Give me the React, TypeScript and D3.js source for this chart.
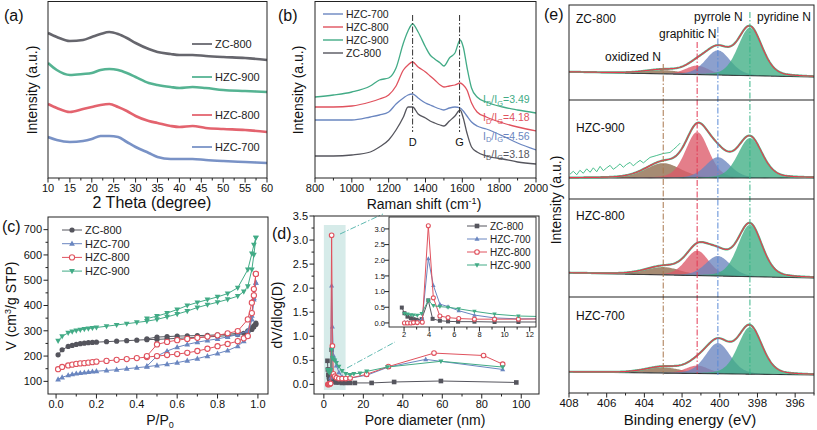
import React from 'react';
import * as d3 from 'd3';

const FONT = '"Liberation Sans", Arial, Helvetica, sans-serif';
const C_GRAY = '#55555d';
const C_GREEN = '#42ab86';
const C_RED = '#e0525e';
const C_BLUE = '#6a86c0';
const AX = '#222';

// ---------- (a) XRD ----------
const xrdTheta = [10, 12, 15, 18, 20, 22, 24, 26, 28, 30, 33, 35, 38, 40, 43, 46, 50, 55, 60];
const xrdZC800 = [145, 141, 137, 138, 141, 144, 146, 144, 140, 135, 129, 126, 124, 123, 123, 122, 121, 120, 118];
const xrdHZC900 = [115, 108, 103, 104, 105, 108, 109, 108, 105, 101, 95, 93, 91, 90, 91, 90, 88, 87, 86];
const xrdHZC800 = [74, 70, 66, 69, 71, 73, 74, 71, 67, 62, 57, 55, 52, 51, 52, 50, 49, 48, 46];
const xrdHZC700 = [41, 38, 36, 37, 39, 42, 42, 41, 36, 31, 25, 21, 19, 19, 19, 18, 17, 16, 15];
const xrdTicks = [10, 15, 20, 25, 30, 35, 40, 45, 50, 55, 60];

// ---------- (b) Raman ----------
const ramanShift = [800, 900, 1000, 1100, 1150, 1200, 1240, 1280, 1305, 1330, 1360, 1400, 1425, 1450, 1480, 1500, 1530, 1560, 1588, 1605, 1625, 1650, 1680, 1730, 1820, 1900, 2000];
const ramanHZC900 = [81, 83, 86, 92, 98, 100, 110, 135, 147, 154, 146, 131, 123, 119, 115, 112, 120, 125, 138, 131, 111, 90, 81, 76, 71, 68, 65];
const ramanHZC800 = [71, 71, 72, 76, 79, 83, 92, 108, 113, 116, 111, 106, 102, 98, 93, 91, 92, 93, 95, 93, 88, 75, 66, 61, 55, 51, 47];
const ramanHZC700 = [58, 58, 58, 61, 63, 66, 74, 80, 83, 84, 80, 75, 73, 71, 69, 68, 70, 71, 70, 67, 62, 56, 52, 49, 42, 35, 28];
const ramanZC800 = [22, 22, 23, 26, 31, 38, 48, 61, 71, 71, 64, 60, 57, 55, 53, 52, 57, 62, 68, 60, 45, 31, 26, 22, 19, 16, 14];
const ramanTicks = [800, 1000, 1200, 1400, 1600, 1800, 2000];
const ramanRatios = ['3.49', '4.18', '4.56', '3.18'];

// ---------- (c) N2 isotherms ----------
const pAds = [0.01, 0.03, 0.06, 0.08, 0.1, 0.12, 0.14, 0.16, 0.18, 0.2, 0.25, 0.3, 0.35, 0.4, 0.45, 0.5, 0.55, 0.6, 0.65, 0.7, 0.75, 0.8, 0.85, 0.9, 0.93, 0.95, 0.97, 0.98, 0.99];
const pDes = [0.99, 0.98, 0.97, 0.95, 0.9, 0.85, 0.8, 0.75, 0.7, 0.65, 0.6, 0.55, 0.5, 0.45];
const adsZC800 = [205, 225, 238, 242, 246, 249, 251, 253, 254, 255, 257, 259, 261, 263, 265, 266, 268, 270, 272, 274, 276, 278, 281, 285, 290, 295, 305, 315, 325];
const desZC800 = [330, 320, 312, 300, 290, 286, 284, 282, 281, 280, 279, 277, 275, 268];
const adsHZC700 = [108, 116, 124, 128, 131, 133, 135, 137, 139, 140, 143, 146, 150, 154, 158, 163, 168, 174, 182, 190, 200, 210, 222, 239, 259, 279, 345, 424, 490];
const desHZC700 = [490, 430, 360, 300, 285, 276, 268, 262, 255, 246, 235, 220, 200, 160];
const adsHZC800 = [148, 157, 163, 166, 169, 171, 172, 174, 176, 178, 181, 185, 188, 192, 196, 200, 204, 208, 213, 220, 229, 239, 248, 259, 270, 279, 370, 440, 525];
const desHZC800 = [525, 465, 411, 345, 299, 290, 282, 277, 272, 268, 263, 256, 246, 200];
const adsHZC900 = [260, 278, 292, 297, 301, 304, 307, 309, 311, 313, 318, 323, 328, 333, 338, 345, 355, 366, 378, 392, 403, 413, 424, 437, 455, 476, 542, 600, 668];
const desHZC900 = [668, 640, 605, 542, 470, 447, 434, 423, 412, 400, 384, 370, 358, 348];
const isoXTicks = [0, 0.2, 0.4, 0.6, 0.8, 1.0];
const isoYTicks = [100, 200, 300, 400, 500, 600, 700];

// ---------- (d) pore size distribution ----------
const poreZC800: [number, number][] = [[1.82, 0.49], [2.03, 0.31], [2.27, 0.2], [2.54, 0.15], [2.75, 0.12], [3.0, 0.1], [3.4, 0.12], [3.93, 0.72], [4.27, 0.13], [4.85, 0.07], [5.5, 0.05], [6.3, 0.04], [7.6, 0.04], [9.2, 0.03], [11.1, 0.03], [13.3, 0.03], [15.7, 0.03], [24.2, 0.03], [35.6, 0.05], [59.3, 0.07], [97.5, 0.04]];
const poreHZC700: [number, number][] = [[2.03, 0.02], [2.27, 0.02], [2.54, 0.02], [2.75, 0.03], [3.05, 0.04], [3.45, 0.14], [3.93, 2.05], [4.33, 1.2], [4.85, 0.6], [5.5, 0.52], [6.35, 0.39], [7.6, 0.25], [9.2, 0.16], [11.1, 0.13], [13.3, 0.13], [21.7, 0.19], [32.7, 0.36], [51.6, 0.52], [90.6, 0.31]];
const poreHZC800: [number, number][] = [[2.03, 0.0], [2.27, 0.0], [2.54, 0.0], [2.75, 0.01], [3.05, 0.01], [3.45, 0.02], [3.93, 3.1], [4.33, 0.8], [4.85, 0.22], [5.5, 0.17], [6.35, 0.14], [7.6, 0.12], [9.2, 0.12], [11.1, 0.12], [13.3, 0.13], [21.7, 0.21], [32.7, 0.37], [55.8, 0.65], [80.9, 0.6], [90.6, 0.42]];
const poreHZC900: [number, number][] = [[2.03, 0.3], [2.27, 0.28], [2.54, 0.26], [2.75, 0.25], [3.05, 0.24], [3.4, 0.3], [3.93, 0.72], [4.33, 0.55], [4.85, 0.52], [5.5, 0.5], [6.35, 0.45], [7.6, 0.37], [9.2, 0.28], [11.1, 0.22], [13.3, 0.2], [15.2, 0.22], [18.3, 0.23], [21.7, 0.27], [32.2, 0.36], [59.3, 0.48], [90.6, 0.36]];
const poreXTicks = [0, 20, 40, 60, 80, 100];
const poreYTicks = [0, 0.5, 1.0, 1.5, 2.0, 2.5, 3.0, 3.5];
const insetXTicks = [2, 4, 6, 8, 10, 12];
const insetYTicks = [0, 0.5, 1.0, 1.5, 2.0, 2.5, 3.0];

// ---------- (e) XPS N 1s ----------
const xpsSamples = ['ZC-800', 'HZC-900', 'HZC-800', 'HZC-700'];
const xpsSpecies = ['oxidized N', 'graphitic N', 'pyrrole N', 'pyridine N'];
const xpsCenters = [403.0, 401.2, 400.1, 398.4];
const xpsFwhm = [2.2, 1.45, 1.55, 1.5];
const xpsHeightsZC800 = [4, 9.5, 26, 50.5];
const xpsHeightsHZC900 = [15, 46.5, 21, 40.4];
const xpsHeightsHZC800 = [8, 25.5, 20.4, 53];
const xpsHeightsHZC700 = [6, 8.3, 32, 49];
const xpsBaseZC800 = [29.5, 24.2];
const xpsBaseHZC900 = [21.2, 21.2];
const xpsBaseHZC800 = [24.5, 19.4];
const xpsBaseHZC700 = [21.9, 18.8];
const xpsRawHZC900E = [407.95, 407.77, 407.59, 407.42, 407.24, 407.06, 406.88, 406.71, 406.53, 406.35, 406.18, 406.0, 405.82, 405.65, 405.47, 405.29, 405.12, 404.94, 404.76, 404.59, 404.41, 404.23, 404.05, 403.87, 403.7, 403.34, 402.99, 402.64, 402.46, 402.28, 402.1];
const xpsRawHZC900I = [25, 28, 24.5, 29, 26, 30.5, 27, 31.5, 27.5, 33, 28.6, 31.5, 34, 30, 32.5, 35.5, 32, 35, 37, 33.5, 36.5, 39, 36.5, 39.4, 42, 44, 46, 47, 50, 53, 56.5];
const xpsTicks = [408, 406, 404, 402, 400, 398, 396];

function Frame({ x0, x1, y0, y1, sw = 1 }: any) {
  return <rect x={x0} y={y0} width={x1 - x0} height={y1 - y0} fill="none" stroke={AX} strokeWidth={sw} />;
}

function XAxis({ scale, y, major, minor, fmt, fs = 11, dy = 14 }: any) {
  return (
    <g>
      {minor.map((v: number) => (
        <line key={'m' + v} x1={scale(v)} x2={scale(v)} y1={y} y2={y + 2.5} stroke={AX} strokeWidth={1} />
      ))}
      {major.map((v: number) => (
        <g key={'M' + v}>
          <line x1={scale(v)} x2={scale(v)} y1={y} y2={y + 4.5} stroke={AX} strokeWidth={1} />
          <text x={scale(v)} y={y + dy} textAnchor="middle" fontSize={fs} fill="#111">{fmt(v)}</text>
        </g>
      ))}
    </g>
  );
}

function YAxis({ scale, x, major, minor, fmt, fs = 11, dx = 6 }: any) {
  return (
    <g>
      {minor.map((v: number) => (
        <line key={'m' + v} x1={x} x2={x - 2.5} y1={scale(v)} y2={scale(v)} stroke={AX} strokeWidth={1} />
      ))}
      {major.map((v: number) => (
        <g key={'M' + v}>
          <line x1={x} x2={x - 4.5} y1={scale(v)} y2={scale(v)} stroke={AX} strokeWidth={1} />
          <text x={x - dx} y={scale(v)} dy="0.35em" textAnchor="end" fontSize={fs} fill="#111">{fmt(v)}</text>
        </g>
      ))}
    </g>
  );
}

function Marker({ type, x, y, color, r = 2.6 }: any) {
  if (type === 'circle') return <circle cx={x} cy={y} r={r} fill={color} />;
  if (type === 'ocircle') return <circle cx={x} cy={y} r={r} fill="#fff" stroke={color} strokeWidth={1.1} />;
  if (type === 'square') return <rect x={x - r} y={y - r} width={2 * r} height={2 * r} fill={color} />;
  if (type === 'tri') return <path d={`M${x},${y - r * 1.2}L${x + r * 1.1},${y + r * 0.8}L${x - r * 1.1},${y + r * 0.8}Z`} fill={color} />;
  return <path d={`M${x},${y + r * 1.2}L${x + r * 1.1},${y - r * 0.8}L${x - r * 1.1},${y - r * 0.8}Z`} fill={color} />;
}

export default function App() {
  // ---------- (a) ----------
  const ax = d3.scaleLinear().domain([10, 60]).range([48, 267]);
  const ay = d3.scaleLinear().domain([0, 176]).range([178, 2]);
  const aLine = (vals: number[]) =>
    d3.line<number>().x((_, i) => ax(xrdTheta[i])).y((v) => ay(v)).curve(d3.curveMonotoneX)(vals) || '';
  const xrdSeries = [
    { name: 'ZC-800', vals: xrdZC800, color: C_GRAY, ly: 44 },
    { name: 'HZC-900', vals: xrdHZC900, color: C_GREEN, ly: 77 },
    { name: 'HZC-800', vals: xrdHZC800, color: C_RED, ly: 115 },
    { name: 'HZC-700', vals: xrdHZC700, color: C_BLUE, ly: 147 },
  ];

  // ---------- (b) ----------
  const bx = d3.scaleLinear().domain([800, 2000]).range([315, 536]);
  const by = d3.scaleLinear().domain([0, 176]).range([178, 2]);
  const bLine = (vals: number[]) =>
    d3.line<number>().x((_, i) => bx(ramanShift[i])).y((v) => by(v)).curve(d3.curveMonotoneX)(vals) || '';
  const ramanSeries = [
    { name: 'HZC-700', vals: ramanHZC700, color: C_BLUE },
    { name: 'HZC-800', vals: ramanHZC800, color: C_RED },
    { name: 'HZC-900', vals: ramanHZC900, color: C_GREEN },
    { name: 'ZC-800', vals: ramanZC800, color: C_GRAY },
  ];
  const ratioColors = [C_GREEN, C_RED, C_BLUE, C_GRAY];

  // ---------- (c) ----------
  const cx = d3.scaleLinear().domain([-0.04, 1.05]).range([48, 268]);
  const cy = d3.scaleLinear().domain([50, 750]).range([394, 217]);
  const isoSeries = [
    { name: 'ZC-800', ads: adsZC800, des: desZC800, color: C_GRAY, m: 'circle' },
    { name: 'HZC-700', ads: adsHZC700, des: desHZC700, color: C_BLUE, m: 'tri' },
    { name: 'HZC-800', ads: adsHZC800, des: desHZC800, color: C_RED, m: 'ocircle' },
    { name: 'HZC-900', ads: adsHZC900, des: desHZC900, color: C_GREEN, m: 'tridown' },
  ];
  const cLine = (ps: number[], vs: number[]) =>
    d3.line<number>().x((_, i) => cx(ps[i])).y((v) => cy(v))(vs) || '';

  // ---------- (d) ----------
  const dx = d3.scaleLinear().domain([-5, 109]).range([314, 539]);
  const dy = d3.scaleLinear().domain([-0.2, 3.5]).range([394, 216]);
  const ix = d3.scaleLinear().domain([0.8, 12.5]).range([389, 536]);
  const iy = d3.scaleLinear().domain([-0.13, 3.38]).range([327, 217]);
  const poreSeries = [
    { name: 'ZC-800', pts: poreZC800, color: C_GRAY, m: 'square' },
    { name: 'HZC-700', pts: poreHZC700, color: C_BLUE, m: 'tri' },
    { name: 'HZC-800', pts: poreHZC800, color: C_RED, m: 'ocircle' },
    { name: 'HZC-900', pts: poreHZC900, color: C_GREEN, m: 'tridown' },
  ];

  // ---------- (e) ----------
  const ex = d3.scaleLinear().domain([408, 395]).range([569, 814]);
  const subs = [
    { top: 5, bottom: 100, h: xpsHeightsZC800, b: xpsBaseZC800 },
    { top: 100, bottom: 199, h: xpsHeightsHZC900, b: xpsBaseHZC900 },
    { top: 199, bottom: 297, h: xpsHeightsHZC800, b: xpsBaseHZC800 },
    { top: 297, bottom: 393, h: xpsHeightsHZC700, b: xpsBaseHZC700 },
  ];
  const energies = d3.range(395, 408.0001, 0.05);
  const compFill = ['#8d6a4c', '#dc5a69', '#6c85bf', '#3fae84'];
  const lineColors = ['#a8764e', '#e23a55', '#5b8ad6', '#39b487'];
  // Gaussian-Lorentzian (GL30) peak shape used for XPS component fitting
  const peak = (e: number, c: number, h: number, w: number) => {
    const t = (e - c) / w;
    return h * (0.75 * Math.exp(-4 * Math.LN2 * t * t) + 0.25 / (1 + 4 * t * t));
  };

  return (
    <div style={{ position: 'absolute', left: 0, top: 0 }}>
      <svg width={817} height={430} style={{ display: 'block', fontFamily: FONT, background: '#fff' }}>
        <defs>
          <clipPath id="clipA"><rect x={48} y={2} width={219} height={176} /></clipPath>
          <clipPath id="clipB"><rect x={315} y={2} width={221} height={176} /></clipPath>
          <clipPath id="clipInset"><rect x={389} y={217} width={147} height={110} /></clipPath>
          <clipPath id="clipE"><rect x={569} y={5} width={245} height={388} /></clipPath>
        </defs>

        {/* ================= (a) ================= */}
        <g>
          <g clipPath="url(#clipA)">
            {xrdSeries.map((s) => (
              <path key={s.name} d={aLine(s.vals)} fill="none" stroke={s.color} strokeWidth={2.6} strokeOpacity={0.9} />
            ))}
          </g>
          {xrdSeries.map((s) => (
            <g key={'l' + s.name}>
              <line x1={192} x2={212} y1={s.ly} y2={s.ly} stroke={s.color} strokeWidth={1.6} />
              <text x={215} y={s.ly} dy="0.35em" fontSize={11} fill="#222">{s.name}</text>
            </g>
          ))}
          <Frame x0={48} x1={267} y0={1.5} y1={178} />
          <XAxis scale={ax} y={178} major={xrdTicks} minor={d3.range(12.5, 60, 5)} fmt={(v: number) => String(v)} />
          <text x={152} y={208} textAnchor="middle" fontSize={16} fill="#111">2 Theta (degree)</text>
          <text transform="translate(37,90) rotate(-90)" textAnchor="middle" fontSize={14} fill="#111">Intensity (a.u.)</text>
          <text x={4} y={21} fontSize={16} fill="#111">(a)</text>
        </g>

        {/* ================= (b) ================= */}
        <g>
          <g clipPath="url(#clipB)">
            {ramanSeries.map((s) => (
              <path key={s.name} d={bLine(s.vals)} fill="none" stroke={s.color} strokeWidth={1.3} />
            ))}
          </g>
          {[1330, 1585].map((v) => (
            <line key={v} x1={bx(v)} x2={bx(v)} y1={15} y2={132} stroke="#333" strokeWidth={1} strokeDasharray="6,2,1.5,2" />
          ))}
          <text x={bx(1330)} y={146} textAnchor="middle" fontSize={11} fill="#111">D</text>
          <text x={bx(1585)} y={146} textAnchor="middle" fontSize={11} fill="#111">G</text>
          {ramanRatios.map((r, i) => (
            <text key={r} x={483} y={103 + i * 18.3} fontSize={10.5} fill={ratioColors[i]}>
              I<tspan dy={2.5} fontSize={7.5}>D</tspan><tspan dy={-2.5}>/I</tspan><tspan dy={2.5} fontSize={7.5}>G</tspan><tspan dy={-2.5}>={r}</tspan>
            </text>
          ))}
          {ramanSeries.map((s, i) => (
            <g key={'lb' + s.name}>
              <line x1={323} x2={343} y1={14 + i * 13} y2={14 + i * 13} stroke={s.color} strokeWidth={1.4} />
              <text x={346} y={14 + i * 13} dy="0.35em" fontSize={10.5} fill="#222">{s.name}</text>
            </g>
          ))}
          <Frame x0={315} x1={536} y0={1.5} y1={178} />
          <XAxis scale={bx} y={178} major={ramanTicks} minor={d3.range(900, 2000, 200)} fmt={(v: number) => String(v)} />
          <text x={424} y={209} textAnchor="middle" fontSize={14} fill="#111">
            Raman shift (cm<tspan dy={-5} fontSize={9}>-1</tspan><tspan dy={5}>)</tspan>
          </text>
          <text transform="translate(303,90) rotate(-90)" textAnchor="middle" fontSize={14} fill="#111">Intensity (a.u.)</text>
          <text x={278} y={21} fontSize={16} fill="#111">(b)</text>
        </g>

        {/* ================= (c) ================= */}
        <g>
          {isoSeries.map((s) => (
            <g key={s.name}>
              <path d={cLine(pAds, s.ads)} fill="none" stroke={s.color} strokeWidth={1} />
              <path d={cLine(pDes, s.des)} fill="none" stroke={s.color} strokeWidth={1} />
              {s.ads.map((v, i) => <Marker key={'a' + i} type={s.m} x={cx(pAds[i])} y={cy(v)} color={s.color} />)}
              {s.des.map((v, i) => <Marker key={'d' + i} type={s.m} x={cx(pDes[i])} y={cy(v)} color={s.color} />)}
            </g>
          ))}
          {isoSeries.map((s, i) => (
            <g key={'lc' + s.name}>
              <line x1={62} x2={82} y1={230 + i * 13.7} y2={230 + i * 13.7} stroke={s.color} strokeWidth={1} />
              <Marker type={s.m} x={72} y={230 + i * 13.7} color={s.color} />
              <text x={85} y={230 + i * 13.7} dy="0.35em" fontSize={11} fill="#222">{s.name}</text>
            </g>
          ))}
          <Frame x0={48} x1={268} y0={217} y1={394} />
          <XAxis scale={cx} y={394} major={isoXTicks} minor={[0.1, 0.3, 0.5, 0.7, 0.9]} fmt={(v: number) => v.toFixed(1)} />
          <YAxis scale={cy} x={48} major={isoYTicks} minor={[150, 250, 350, 450, 550, 650]} fmt={(v: number) => String(v)} />
          <text x={160} y={425} textAnchor="middle" fontSize={14} fill="#111">
            P/P<tspan dy={3} fontSize={9}>0</tspan>
          </text>
          <text transform="translate(16,306) rotate(-90)" textAnchor="middle" fontSize={14} fill="#111">
            V (cm<tspan dy={-5} fontSize={9}>3</tspan><tspan dy={5}>/g STP)</tspan>
          </text>
          <text x={2} y={232} fontSize={16} fill="#111">(c)</text>
        </g>

        {/* ================= (d) ================= */}
        <g>
          <rect x={dx(0)} y={225} width={dx(11) - dx(0)} height={390 - 225} fill="#cfe7e5" opacity={0.85} />
          {poreSeries.map((s) => (
            <g key={s.name}>
              <path d={d3.line<[number, number]>().x((p) => dx(p[0])).y((p) => dy(p[1]))(s.pts) || ''} fill="none" stroke={s.color} strokeWidth={1} />
              {s.pts.map((p, i) => <Marker key={i} type={s.m} x={dx(p[0])} y={dy(p[1])} color={s.color} r={2.3} />)}
            </g>
          ))}
          <line x1={340} y1={234} x2={383} y2={214} stroke="#5fb9b1" strokeWidth={1} strokeDasharray="6,2,1.5,2" />
          <line x1={347} y1={368} x2={395} y2={342} stroke="#5fb9b1" strokeWidth={1} strokeDasharray="6,2,1.5,2" />
          {/* inset */}
          <rect x={389} y={217} width={147} height={110} fill="#fff" />
          <g clipPath="url(#clipInset)">
            {poreSeries.map((s) => (
              <g key={'i' + s.name}>
                <path d={d3.line<[number, number]>().x((p) => ix(p[0])).y((p) => iy(p[1]))(s.pts) || ''} fill="none" stroke={s.color} strokeWidth={1} />
                {s.pts.map((p, i) => <Marker key={i} type={s.m} x={ix(p[0])} y={iy(p[1])} color={s.color} r={2} />)}
              </g>
            ))}
          </g>
          {poreSeries.map((s, i) => (
            <g key={'ld' + s.name}>
              <line x1={467} x2={487} y1={226 + i * 13} y2={226 + i * 13} stroke={s.color} strokeWidth={1} />
              <Marker type={s.m} x={477} y={226 + i * 13} color={s.color} r={2.3} />
              <text x={490} y={226 + i * 13} dy="0.35em" fontSize={10} fill="#222">{s.name}</text>
            </g>
          ))}
          <Frame x0={389} x1={536} y0={217} y1={327} sw={0.9} />
          <XAxis scale={ix} y={327} major={insetXTicks} minor={[3, 5, 7, 9, 11]} fmt={(v: number) => String(v)} fs={7.5} dy={10} />
          <YAxis scale={iy} x={389} major={insetYTicks} minor={[]} fmt={(v: number) => v.toFixed(1)} fs={7.5} dx={4} />
          <Frame x0={314} x1={539} y0={216} y1={394} />
          <XAxis scale={dx} y={394} major={poreXTicks} minor={[10, 30, 50, 70, 90]} fmt={(v: number) => String(v)} />
          <YAxis scale={dy} x={314} major={poreYTicks} minor={[0.25, 0.75, 1.25, 1.75, 2.25, 2.75, 3.25]} fmt={(v: number) => v.toFixed(1)} />
          <text x={425} y={425} textAnchor="middle" fontSize={14} fill="#111">Pore diameter (nm)</text>
          <text transform="translate(282,315) rotate(-90)" textAnchor="middle" fontSize={14} fill="#111">dV/dlog(D)</text>
          <text x={272} y={239} fontSize={16} fill="#111">(d)</text>
        </g>

        {/* ================= (e) ================= */}
        <g>
          <g clipPath="url(#clipE)">
            {subs.map((s, si) => {
              const sy = d3.scaleLinear().domain([0, 100]).range([s.bottom, s.top]);
              const base = d3.scaleLinear().domain([408, 395]).range(s.b);
              const comps = s.h.map((h, k) =>
                energies.map((e) => ({ e, b: base(e), v: base(e) + peak(e, xpsCenters[k], h, xpsFwhm[k]) }))
              );
              const env = energies.map((e) => base(e) + s.h.reduce((acc, h, k) => acc + peak(e, xpsCenters[k], h, xpsFwhm[k]), 0));
              const area = d3.area<any>().x((d) => ex(d.e)).y0((d) => sy(d.b)).y1((d) => sy(d.v));
              const envLine = d3.line<number>().x((_, i) => ex(energies[i])).y((v) => sy(v))(env) || '';
              return (
                <g key={si}>
                  {comps.map((c, k) => (
                    <path key={k} d={area(c) || ''} fill={compFill[k]} fillOpacity={0.78} />
                  ))}
                  <path d={d3.line<number>().x((_, i) => ex(energies[i])).y((v) => sy(v))(energies.map((e) => base(e))) || ''} fill="none" stroke="#222" strokeWidth={1} />
                  {si === 1 && (
                    <path d={d3.line<number>().x((_, i) => ex(xpsRawHZC900E[i])).y((v) => sy(v))(xpsRawHZC900I) || ''} fill="none" stroke="#4cc08f" strokeWidth={1} />
                  )}
                  <path d={envLine} fill="none" stroke="#4cc08f" strokeWidth={2.2} />
                  <path d={envLine} fill="none" stroke="#e43c4f" strokeWidth={1.2} />
                </g>
              );
            })}
          </g>
          {xpsCenters.map((c, k) => (
            <line key={k} x1={ex(c)} x2={ex(c)} y1={[64, 42, 27, 12][k]} y2={375} stroke={lineColors[k]} strokeWidth={1} strokeDasharray="6,2,1.5,2" />
          ))}
          {[100, 199, 297].map((y) => (
            <line key={y} x1={569} x2={814} y1={y} y2={y} stroke={AX} strokeWidth={1.2} />
          ))}
          <Frame x0={569} x1={814} y0={5} y1={393} />
          <XAxis scale={ex} y={393} major={xpsTicks} minor={[407, 405, 403, 401, 399, 397, 395]} fmt={(v: number) => String(v)} fs={11.5} />
          {xpsSamples.map((n, i) => (
            <text key={n} x={576} y={[19, 128, 216, 316][i]} dy="0.35em" fontSize={12} fill="#111">{n}</text>
          ))}
          <text x={605} y={57} dy="0.35em" fontSize={12} fill="#111">{xpsSpecies[0]}</text>
          <text x={659} y={34} dy="0.35em" fontSize={12} fill="#111">{xpsSpecies[1]}</text>
          <text x={694} y={17} dy="0.35em" fontSize={12} fill="#111">{xpsSpecies[2]}</text>
          <text x={757} y={17} dy="0.35em" fontSize={12} fill="#111">{xpsSpecies[3]}</text>
          <text x={690} y={425} textAnchor="middle" fontSize={15} fill="#111">Binding energy (eV)</text>
          <text transform="translate(561,200) rotate(-90)" textAnchor="middle" fontSize={14} fill="#111">Intensity (a.u.)</text>
          <text x={544} y={20} fontSize={16} fill="#111">(e)</text>
        </g>
      </svg>
    </div>
  );
}
